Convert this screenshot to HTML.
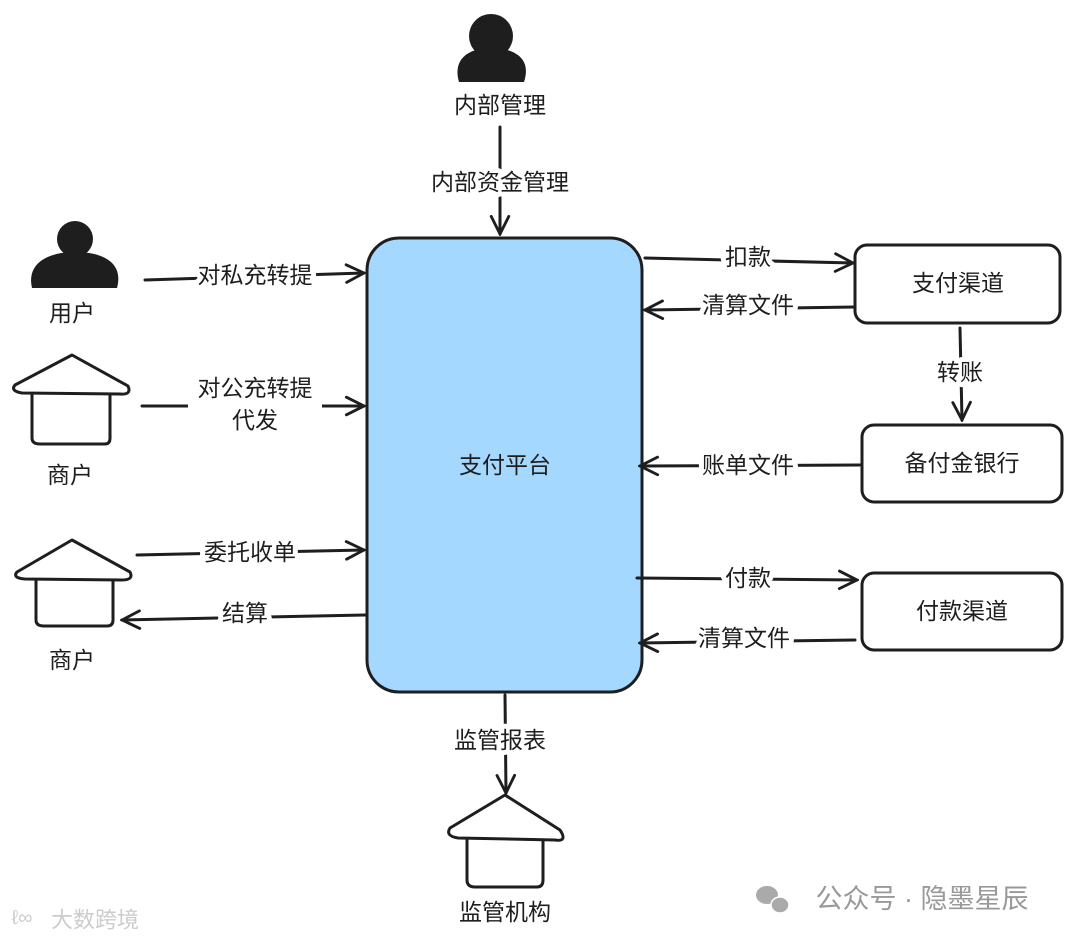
<!DOCTYPE html>
<html><head><meta charset="utf-8"><style>
html,body{margin:0;padding:0;background:#fff;}
svg{display:block;}
text{font-family:"Liberation Sans","Noto Sans CJK SC",sans-serif;font-size:23px;fill:#1e1e1e;text-anchor:middle;dominant-baseline:central;}
.lb{stroke:#fff;stroke-width:10px;paint-order:stroke;stroke-linejoin:round;}
.ln{stroke:#1e1e1e;stroke-width:3;fill:none;stroke-linecap:round;stroke-linejoin:round;}
</style></head><body>
<svg width="1080" height="943" viewBox="0 0 1080 943">
<defs>
<marker id="a" viewBox="0 0 20 20" refX="18" refY="10" markerWidth="22" markerHeight="22" markerUnits="userSpaceOnUse" orient="auto">
<path d="M2,2 L18,10 L2,18" fill="none" stroke="#1e1e1e" stroke-width="2.6" stroke-linecap="round"/>
</marker>
</defs>
<rect x="367" y="238" width="275" height="454" rx="32" fill="#a5d8ff" stroke="#1e1e1e" stroke-width="3"/>
<text x="505" y="465">支付平台</text>

<circle cx="491" cy="36" r="22" fill="#1e1e1e"/>
<path d="M459,82 C452,58 470,48 491,48 C514,48 532,58 524,82 Z" fill="#1e1e1e"/>
<text x="500" y="105">内部管理</text>
<line class="ln" x1="500" y1="127" x2="500" y2="234" marker-end="url(#a)"/>
<text class="lb" x="500" y="182">内部资金管理</text>

<circle cx="75" cy="239" r="18" fill="#1e1e1e"/>
<path d="M32,288 C26,262 50,252 75,252 C102,252 124,262 117,288 Z" fill="#1e1e1e"/>
<text x="72" y="313">用户</text>
<line class="ln" x1="145" y1="280" x2="364" y2="273" marker-end="url(#a)"/>
<text class="lb" x="255" y="275">对私充转提</text>

<path class="ln" d="M72,355 L128,386 Q132,395 120,394 L22,393 Q10,391 15,385 Z"/>
<path class="ln" d="M32,394 L32,438 Q32,444 40,444 L105,444 Q110,444 110,438 L110,394"/>
<text x="70" y="475">商户</text>
<line class="ln" x1="142" y1="406" x2="364" y2="406" marker-end="url(#a)"/>
<rect x="188" y="374" width="134" height="60" fill="#fff"/>
<text x="255" y="388">对公充转提</text>
<text x="255" y="420">代发</text>

<path class="ln" d="M72,540 L130,572 Q134,580 122,580 L25,579 Q12,578 17,572 Z"/>
<path class="ln" d="M36,580 L36,620 Q36,626 44,626 L107,626 Q113,626 113,620 L113,580"/>
<text x="72" y="660">商户</text>
<line class="ln" x1="137" y1="555" x2="364" y2="550" marker-end="url(#a)"/>
<text class="lb" x="250" y="552">委托收单</text>
<line class="ln" x1="365" y1="615" x2="122" y2="620" marker-end="url(#a)"/>
<text class="lb" x="245" y="613">结算</text>

<rect x="855" y="245" width="205" height="78" rx="12" fill="#fff" stroke="#1e1e1e" stroke-width="3"/>
<text x="958" y="283">支付渠道</text>
<rect x="862" y="425" width="200" height="77" rx="12" fill="#fff" stroke="#1e1e1e" stroke-width="3"/>
<text x="962" y="463">备付金银行</text>
<rect x="862" y="573" width="200" height="77" rx="12" fill="#fff" stroke="#1e1e1e" stroke-width="3"/>
<text x="962" y="611">付款渠道</text>

<line class="ln" x1="645" y1="258" x2="853" y2="263" marker-end="url(#a)"/>
<text class="lb" x="748" y="257">扣款</text>
<line class="ln" x1="855" y1="307" x2="645" y2="310" marker-end="url(#a)"/>
<text class="lb" x="748" y="305">清算文件</text>
<line class="ln" x1="960" y1="328" x2="962" y2="420" marker-end="url(#a)"/>
<text class="lb" x="960" y="372">转账</text>
<line class="ln" x1="860" y1="465" x2="640" y2="466" marker-end="url(#a)"/>
<text class="lb" x="748" y="465">账单文件</text>
<line class="ln" x1="637" y1="578" x2="857" y2="580" marker-end="url(#a)"/>
<text class="lb" x="748" y="578">付款</text>
<line class="ln" x1="855" y1="640" x2="640" y2="643" marker-end="url(#a)"/>
<text class="lb" x="744" y="638">清算文件</text>

<line class="ln" x1="505" y1="695" x2="506" y2="793" marker-end="url(#a)"/>
<text class="lb" x="500" y="740">监管报表</text>
<path class="ln" d="M505,795 L560,830 Q568,842 555,840 L458,838 Q445,836 450,828 Z"/>
<path class="ln" d="M467,840 L467,880 Q467,887 475,887 L537,887 Q543,887 543,880 L543,840"/>
<text x="505" y="912">监管机构</text>

<ellipse cx="767" cy="895" rx="11" ry="9" fill="#aaa"/>
<ellipse cx="780" cy="905" rx="9" ry="8" fill="#aaa" stroke="#fff" stroke-width="1.5"/>
<text x="922" y="899" style="font-size:27px;fill:#999">公众号 · 隐墨星辰</text>
<text x="95" y="920" style="font-size:22px;fill:#ccc">大数跨境</text>
<text x="22" y="918" style="font-size:20px;fill:#ccc">ℓ∞</text>
</svg>
</body></html>
